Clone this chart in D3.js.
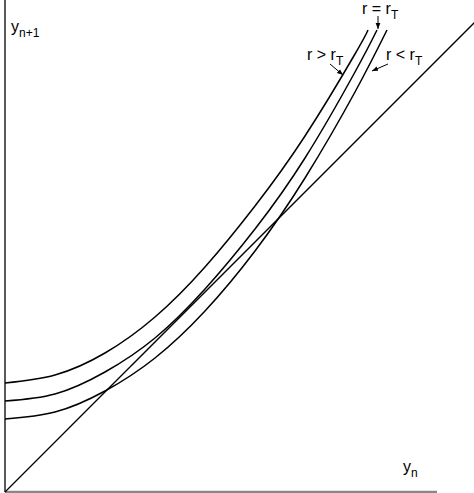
<!DOCTYPE html>
<html><head><meta charset="utf-8">
<script src="https://cdn.jsdelivr.net/npm/d3@7"></script>
<style>body{margin:0;background:#fff}text{font-family:Arial,"Liberation Sans",sans-serif;fill:#000}</style>
</head><body><svg id="c"></svg>
<script>
// (pixel-equal units, origin at axes corner)
const xs = [0, 50, 100, 150, 200, 250, 300, 350];
const rAbove = [109, 117, 139, 175, 225, 286, 356, 438];   // r > rT
const rEqual = [91, 98, 120, 154, 203, 263, 334, 420];     // r = rT
const rBelow = [73, 80, 101, 134, 181, 241, 314, 400];     // r < rT
const ends = [[363, 462], [372, 462], [382, 462]];
const diag = [[0, 0], [470, 470]];

const width = 474, height = 493;
const svg = d3.select("#c").attr("width", width).attr("height", height);
const x = d3.scaleLinear().domain([0, 469]).range([5, 474]);
const y = d3.scaleLinear().domain([0, 492]).range([492, 0]);

svg.append("defs").append("marker").attr("id", "ah").attr("viewBox", "0 0 10 10")
  .attr("refX", 10).attr("refY", 5).attr("markerWidth", 6).attr("markerHeight", 6)
  .attr("orient", "auto").append("path").attr("d", "M0,1L10,5L0,9z").attr("fill", "#000");

// axes
svg.append("line").attr("x1", x(0)).attr("x2", x(0)).attr("y1", y(492)).attr("y2", y(0))
  .attr("stroke", "#000").attr("stroke-width", 1.3);
svg.append("line").attr("x1", x(0)).attr("x2", x(432)).attr("y1", y(0)).attr("y2", y(0))
  .attr("stroke", "#888").attr("stroke-width", 2.5);

const line = d3.line().x(d => x(d[0])).y(d => y(d[1])).curve(d3.curveNatural);
svg.append("path").attr("d", line(diag)).attr("fill", "none").attr("stroke", "#000").attr("stroke-width", 1.3);

[rAbove, rEqual, rBelow].forEach((s, i) => {
  const pts = xs.map((v, j) => [v, s[j]]).concat([ends[i]]);
  svg.append("path").attr("d", line(pts)).attr("fill", "none").attr("stroke", "#000").attr("stroke-width", 1.5);
});

// labels
const lab = (px, py, main, sub) => {
  const t = svg.append("text").attr("x", px).attr("y", py).attr("font-size", 16);
  t.append("tspan").text(main);
  t.append("tspan").attr("dy", 5).attr("font-size", 12).text(sub);
};
lab(11, 32, "y", "n+1");
lab(403, 472, "y", "n");
lab(362, 14, "r = r", "T");
lab(307, 60, "r > r", "T");
lab(386, 60, "r < r", "T");

const arrow = (a, b) => svg.append("line").attr("x1", a[0]).attr("y1", a[1]).attr("x2", b[0]).attr("y2", b[1])
  .attr("stroke", "#000").attr("stroke-width", 1).attr("marker-end", "url(#ah)");
arrow([378, 16], [378, 29]);
arrow([330, 64], [343, 75]);
arrow([388, 64], [372, 71]);
</script></body></html>
